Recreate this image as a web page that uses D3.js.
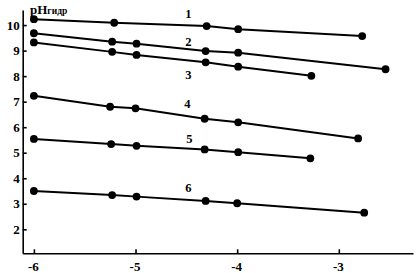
<!DOCTYPE html>
<html>
<head>
<meta charset="utf-8">
<script src="https://cdn.jsdelivr.net/npm/d3@7"></script>
<style>
  body { margin: 0; background: #fff; }
  svg { display: block; }
  text { font-family: "Liberation Serif", "DejaVu Serif", serif; font-weight: bold; fill: #000; }
</style>
</head>
<body>
<div class="canvas"></div>
<script>
const dims = { width: 420, height: 273 };

// series (x = lg C, y = pH)
const s1x = [-6, -5.21, -4.3, -3.99, -2.77];
const s1y = [10.23, 10.09, 9.96, 9.84, 9.57];
const s2x = [-6, -5.23, -4.99, -4.31, -3.99, -2.54];
const s2y = [9.68, 9.35, 9.27, 8.98, 8.92, 8.27];
const s3x = [-6, -5.23, -4.99, -4.31, -3.99, -3.27];
const s3y = [9.32, 8.95, 8.83, 8.54, 8.37, 8.01];
const s4x = [-6, -5.25, -5.0, -4.32, -3.99, -2.81];
const s4y = [7.23, 6.80, 6.74, 6.33, 6.19, 5.56];
const s5x = [-6, -5.24, -4.99, -4.32, -3.99, -3.28];
const s5y = [5.54, 5.34, 5.27, 5.13, 5.02, 4.78];
const s6x = [-6, -5.23, -4.99, -4.31, -4.0, -2.75];
const s6y = [3.50, 3.34, 3.28, 3.11, 3.02, 2.65];

const seriesNames = ["1", "2", "3", "4", "5", "6"];
const labelX = [-4.48, -4.48, -4.48, -4.49, -4.47, -4.48];
const labelY = [10.43, 9.35, 8.04, 6.91, 5.52, 3.61];

const xTicks = [-6, -5, -4, -3];
const yTicks = [2, 3, 4, 5, 6, 7, 8, 9, 10];

const allX = [s1x, s2x, s3x, s4x, s5x, s6x];
const allY = [s1y, s2y, s3y, s4y, s5y, s6y];
const series = allX.map((xs, i) => xs.map((v, j) => ({ x: v, y: allY[i][j] })));

var svg = d3.select('.canvas').append('svg')
  .attr('width', dims.width)
  .attr('height', dims.height);
svg.append('rect').attr('width', dims.width).attr('height', dims.height).attr('fill', '#fff');

var x = d3.scaleLinear().domain([-6.11, -2.27]).range([22.7, 413]);
var y = d3.scaleLinear().domain([1.06, 10.59]).range([253.3, 10]);

// x axis
var xAxis = svg.append('g')
  .attr('transform', `translate(0, ${y(1.06)})`)
  .call(d3.axisBottom(x).tickValues(xTicks).tickFormat(d => String(d))
    .tickSize(-4).tickSizeOuter(0).tickPadding(8.5));
xAxis.selectAll('text').attr('font-size', 13).attr('dx', '-1');

// y axis
var yAxis = svg.append('g')
  .attr('transform', `translate(${x(-6.11)}, 0)`)
  .call(d3.axisLeft(y).tickValues(yTicks).tickFormat(d => String(d))
    .tickSize(-4).tickSizeOuter(0).tickPadding(3));
yAxis.selectAll('text').attr('font-size', 13);

svg.selectAll('.domain, .tick line').attr('stroke', '#000').attr('stroke-width', 1.6);
svg.selectAll('.tick text').attr('fill', '#000').style('font-family', '"Liberation Serif", serif');

// lines
var line = d3.line().x(d => x(d.x)).y(d => y(d.y));
svg.append('g').selectAll('path').data(series).enter().append('path')
  .attr('d', line)
  .attr('fill', 'none')
  .attr('stroke', '#000')
  .attr('stroke-width', 2);

// points
svg.append('g').selectAll('circle').data(series.flat()).enter().append('circle')
  .attr('cx', d => x(d.x))
  .attr('cy', d => y(d.y))
  .attr('r', 3.9)
  .attr('fill', '#000');

// series labels
svg.append('g').selectAll('text').data(seriesNames).enter().append('text')
  .attr('x', (d, i) => x(labelX[i]))
  .attr('y', (d, i) => y(labelY[i]))
  .attr('text-anchor', 'middle')
  .attr('dominant-baseline', 'central')
  .attr('font-size', 12.5)
  .text(d => d);

// axis title pH with subscript
var title = svg.append('text')
  .attr('x', 30)
  .attr('y', 13.5)
  .attr('font-size', 13);
title.append('tspan').text('pH');
title.append('tspan').attr('font-size', 9.5).attr('dy', 0.5).text('гидр');
</script>
</body>
</html>
